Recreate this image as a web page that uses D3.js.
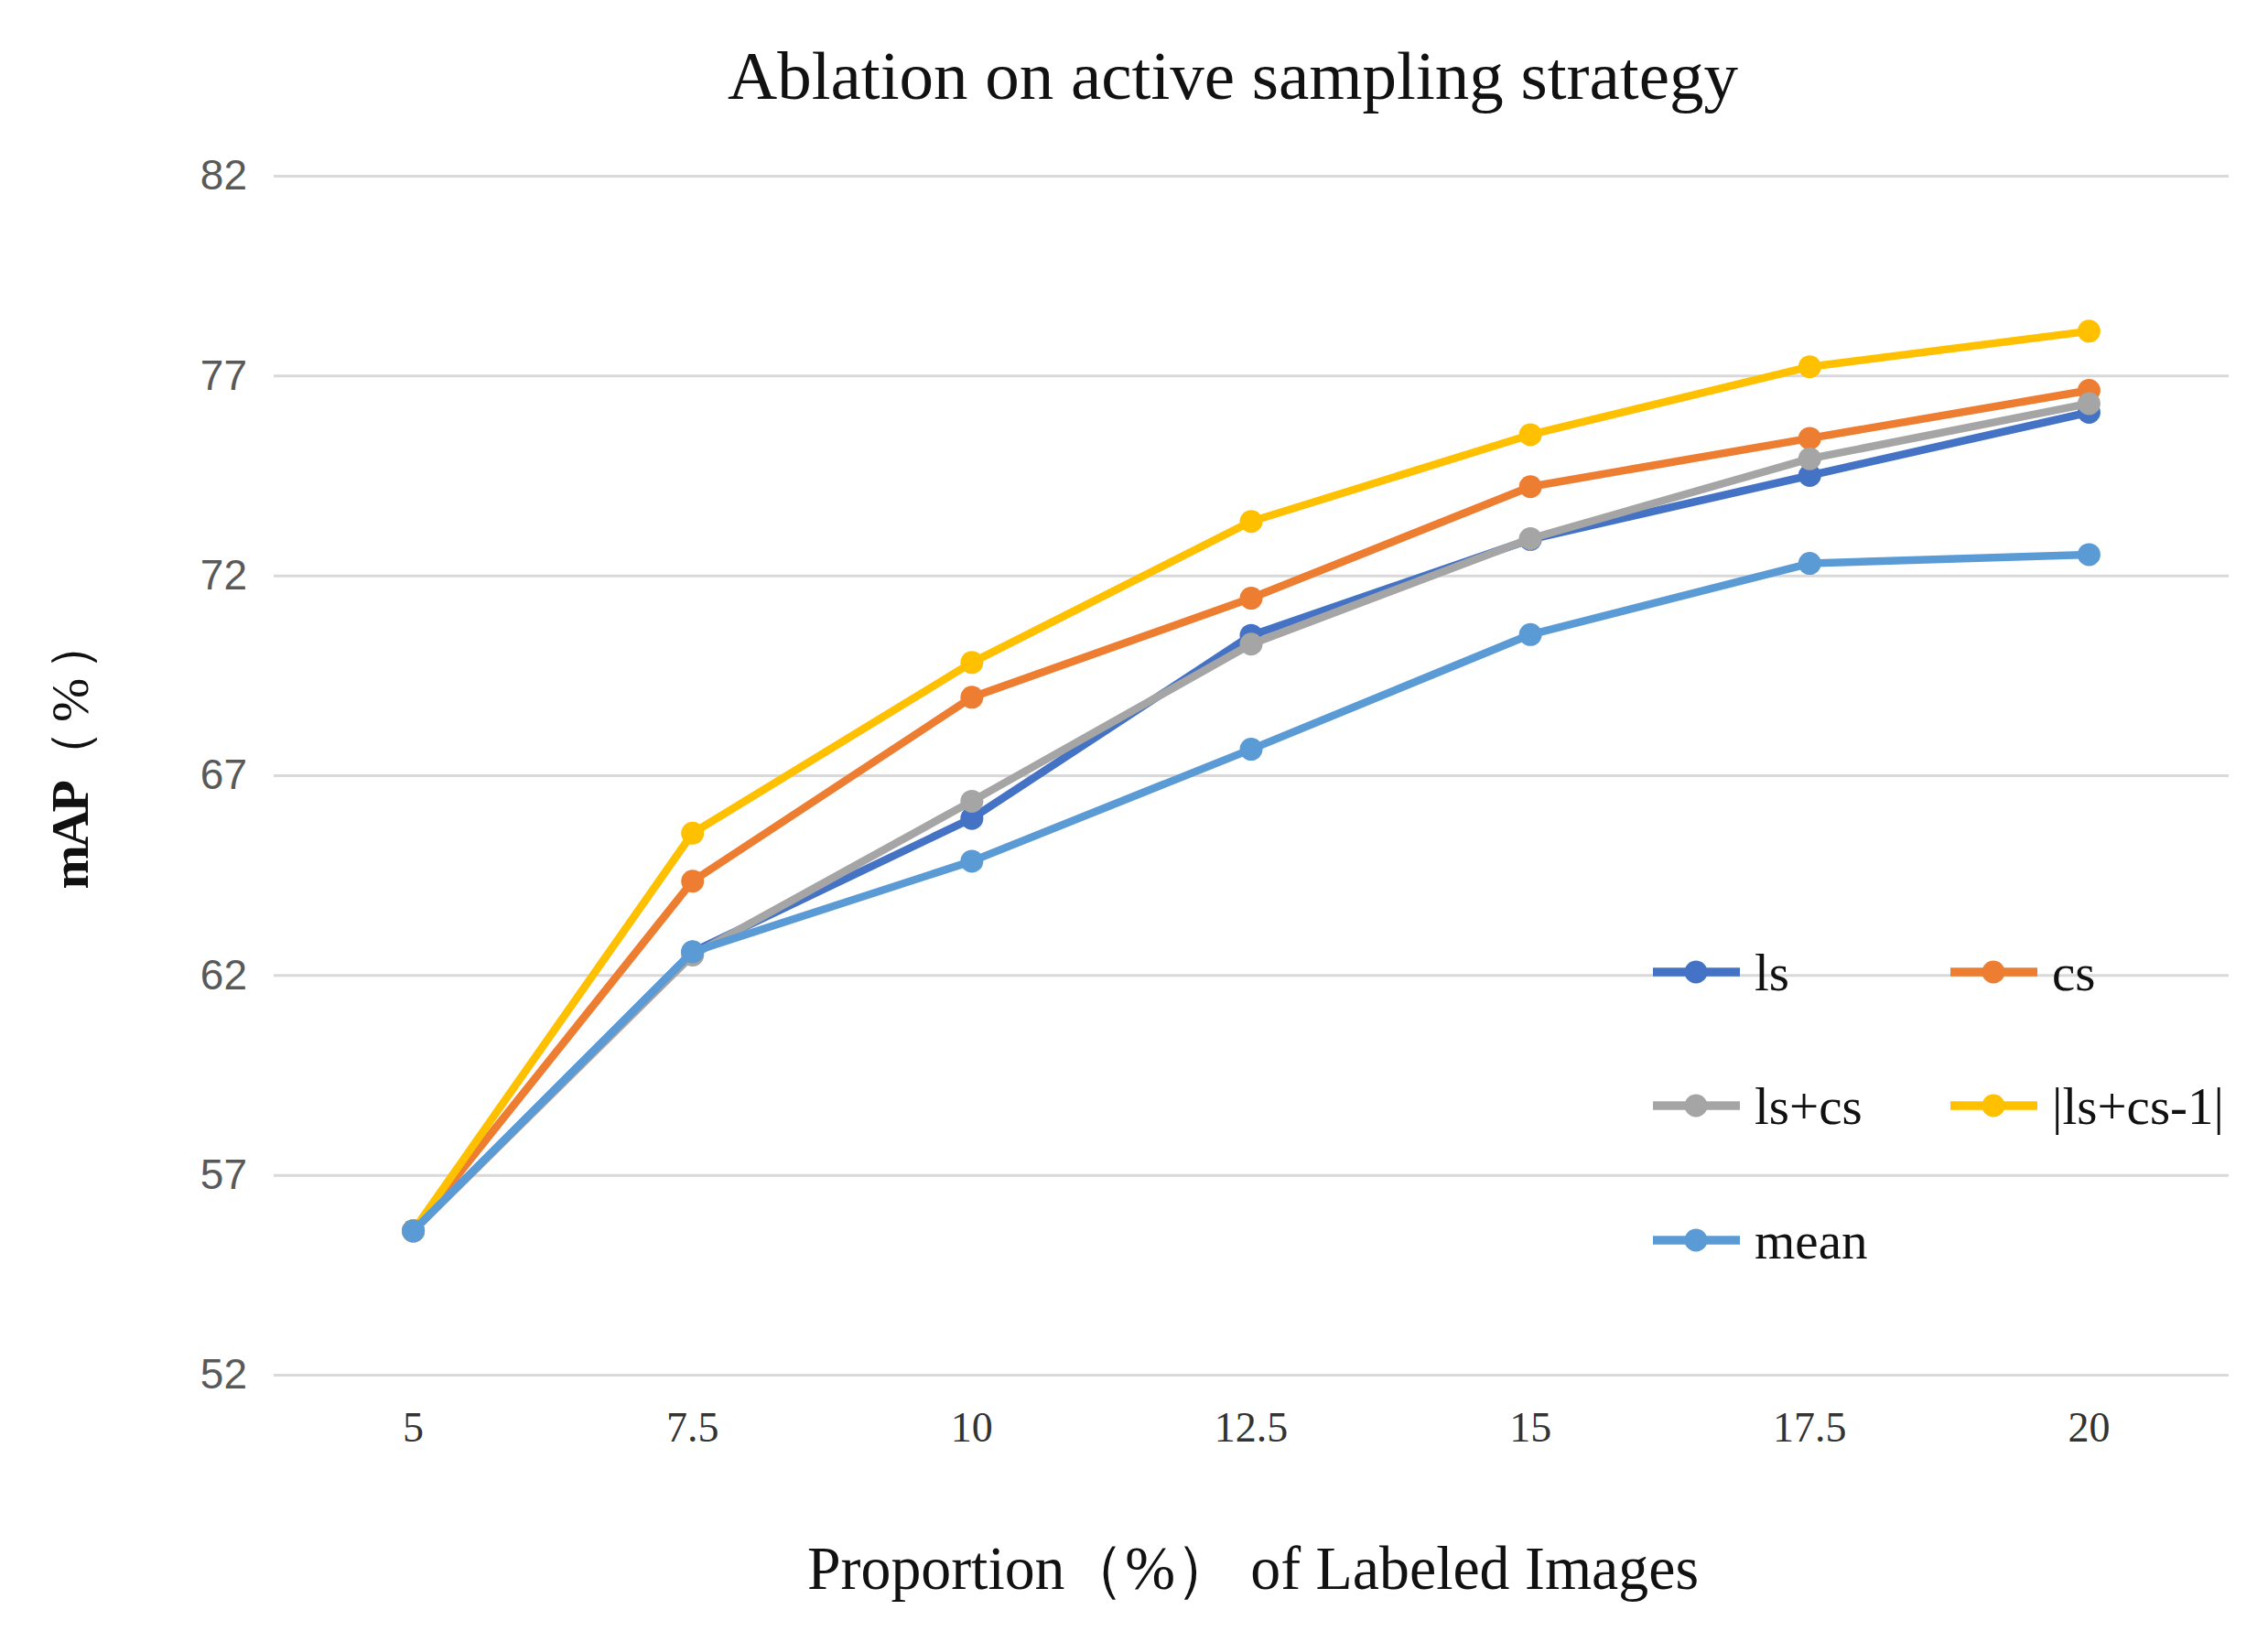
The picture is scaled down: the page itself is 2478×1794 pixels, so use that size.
<!DOCTYPE html>
<html>
<head>
<meta charset="utf-8">
<script src="https://cdn.jsdelivr.net/npm/d3@7"></script>
<style>
  body { margin: 0; background: #fff; }
  svg { display: block; }
</style>
</head>
<body>
<svg width="2478" height="1794"></svg>
<script>
var categories = ["5", "7.5", "10", "12.5", "15", "17.5", "20"];
var yTicks = [52, 57, 62, 67, 72, 77, 82];

var seriesNames = ["ls", "cs", "ls+cs", "|ls+cs-1|", "mean"];
var lsValues    = [55.6, 62.58, 65.92, 70.5, 72.9, 74.5, 76.08];
var csValues    = [55.6, 64.35, 68.95, 71.43, 74.22, 75.43, 76.63];
var lscsValues  = [55.6, 62.5, 66.35, 70.28, 72.92, 74.92, 76.3];
var absValues   = [55.6, 65.55, 69.82, 73.35, 75.52, 77.22, 78.11];
var meanValues  = [55.6, 62.58, 64.85, 67.65, 70.52, 72.3, 72.52];

var colors = ["#4472C4", "#ED7D31", "#A5A5A5", "#FFC000", "#5B9BD5"];

var series = [lsValues, csValues, lscsValues, absValues, meanValues].map(function(vals, i) {
  return {name: seriesNames[i], color: colors[i], values: vals};
});

var svg = d3.select("svg");
var margin = {left: 299, right: 43, top: 192, bottom: 292};
var width = 2478, height = 1794;

var xScale = d3.scaleBand().domain(categories).range([margin.left, width - margin.right]);
var yScale = d3.scaleLinear().domain([52, 82]).range([height - margin.bottom, margin.top]);

function xPos(i) {
  return xScale(categories[i]) + xScale.bandwidth() / 2;
}

// gridlines + y labels
var axisLeft = d3.axisLeft(yScale)
  .tickValues(yTicks)
  .tickSize(-(width - margin.left - margin.right))
  .tickPadding(29)
  .tickFormat(d3.format("d"));

var gy = svg.append("g")
  .attr("transform", "translate(" + margin.left + ",0)")
  .call(axisLeft);
gy.select(".domain").remove();
gy.selectAll(".tick line").attr("stroke", "#d9d9d9").attr("stroke-width", 3);
gy.selectAll(".tick text")
  .attr("fill", "#595959")
  .style("font-family", "'Liberation Sans', Arial, sans-serif")
  .style("font-size", "46px");

// x labels
var axisBottom = d3.axisBottom(xScale).tickSize(0).tickPadding(40);
var gx = svg.append("g")
  .attr("transform", "translate(0," + (height - margin.bottom) + ")")
  .call(axisBottom);
gx.select(".domain").remove();
gx.selectAll(".tick text")
  .attr("fill", "#333")
  .style("font-family", "'Liberation Serif', 'Times New Roman', serif")
  .style("font-size", "46px");

// lines
var line = d3.line()
  .x(function(d, i) { return xPos(i); })
  .y(function(d) { return yScale(d); });

series.forEach(function(s) {
  var g = svg.append("g");
  g.append("path")
    .attr("d", line(s.values))
    .attr("fill", "none")
    .attr("stroke", s.color)
    .attr("stroke-width", 8.5)
    .attr("stroke-linejoin", "round");
  g.selectAll("circle")
    .data(s.values)
    .enter().append("circle")
    .attr("cx", function(d, i) { return xPos(i); })
    .attr("cy", function(d) { return yScale(d); })
    .attr("r", 12.5)
    .attr("fill", s.color);
});

// title
svg.append("text")
  .attr("x", 1347)
  .attr("y", 108)
  .style("text-anchor", "middle")
  .style("font-family", "'Liberation Serif', 'Times New Roman', serif")
  .style("font-size", "75px")
  .attr("fill", "#111")
  .text("Ablation on active sampling strategy");

// x axis title
svg.append("text")
  .attr("x", 1369)
  .attr("y", 1736)
  .style("text-anchor", "middle")
  .style("font-family", "'Liberation Serif', 'Times New Roman', serif")
  .style("font-size", "68px")
  .attr("textLength", 974)
  .attr("lengthAdjust", "spacingAndGlyphs")
  .attr("fill", "#111")
  .text("Proportion（%） of Labeled Images");

// y axis title
var yt = svg.append("text")
  .attr("transform", "translate(96,823) rotate(-90)")
  .style("text-anchor", "middle")
  .style("font-family", "'Liberation Serif', 'Times New Roman', serif")
  .style("font-size", "58px")
  .attr("textLength", 297)
  .attr("lengthAdjust", "spacing")
  .attr("fill", "#111");
yt.append("tspan").style("font-weight", "bold").text("mAP");
yt.append("tspan").text("（ % ）");

// legend
var legendPos = [
  {x: 1806, y: 1062}, {x: 2131, y: 1062},
  {x: 1806, y: 1208}, {x: 2131, y: 1208},
  {x: 1806, y: 1355}
];
var legend = svg.append("g").selectAll("g")
  .data(series)
  .enter().append("g")
  .attr("transform", function(d, i) { return "translate(" + legendPos[i].x + "," + legendPos[i].y + ")"; });
legend.append("line")
  .attr("x1", 0).attr("x2", 95)
  .attr("y1", 0).attr("y2", 0)
  .attr("stroke", function(d) { return d.color; })
  .attr("stroke-width", 9.5);
legend.append("circle")
  .attr("cx", 47).attr("cy", 0).attr("r", 12.5)
  .attr("fill", function(d) { return d.color; });
legend.append("text")
  .attr("x", 111)
  .attr("y", 0)
  .attr("dy", "0.35em")
  .style("font-family", "'Liberation Serif', 'Times New Roman', serif")
  .style("font-size", "57px")
  .attr("fill", "#111")
  .text(function(d) { return d.name; });
</script>
</body>
</html>
